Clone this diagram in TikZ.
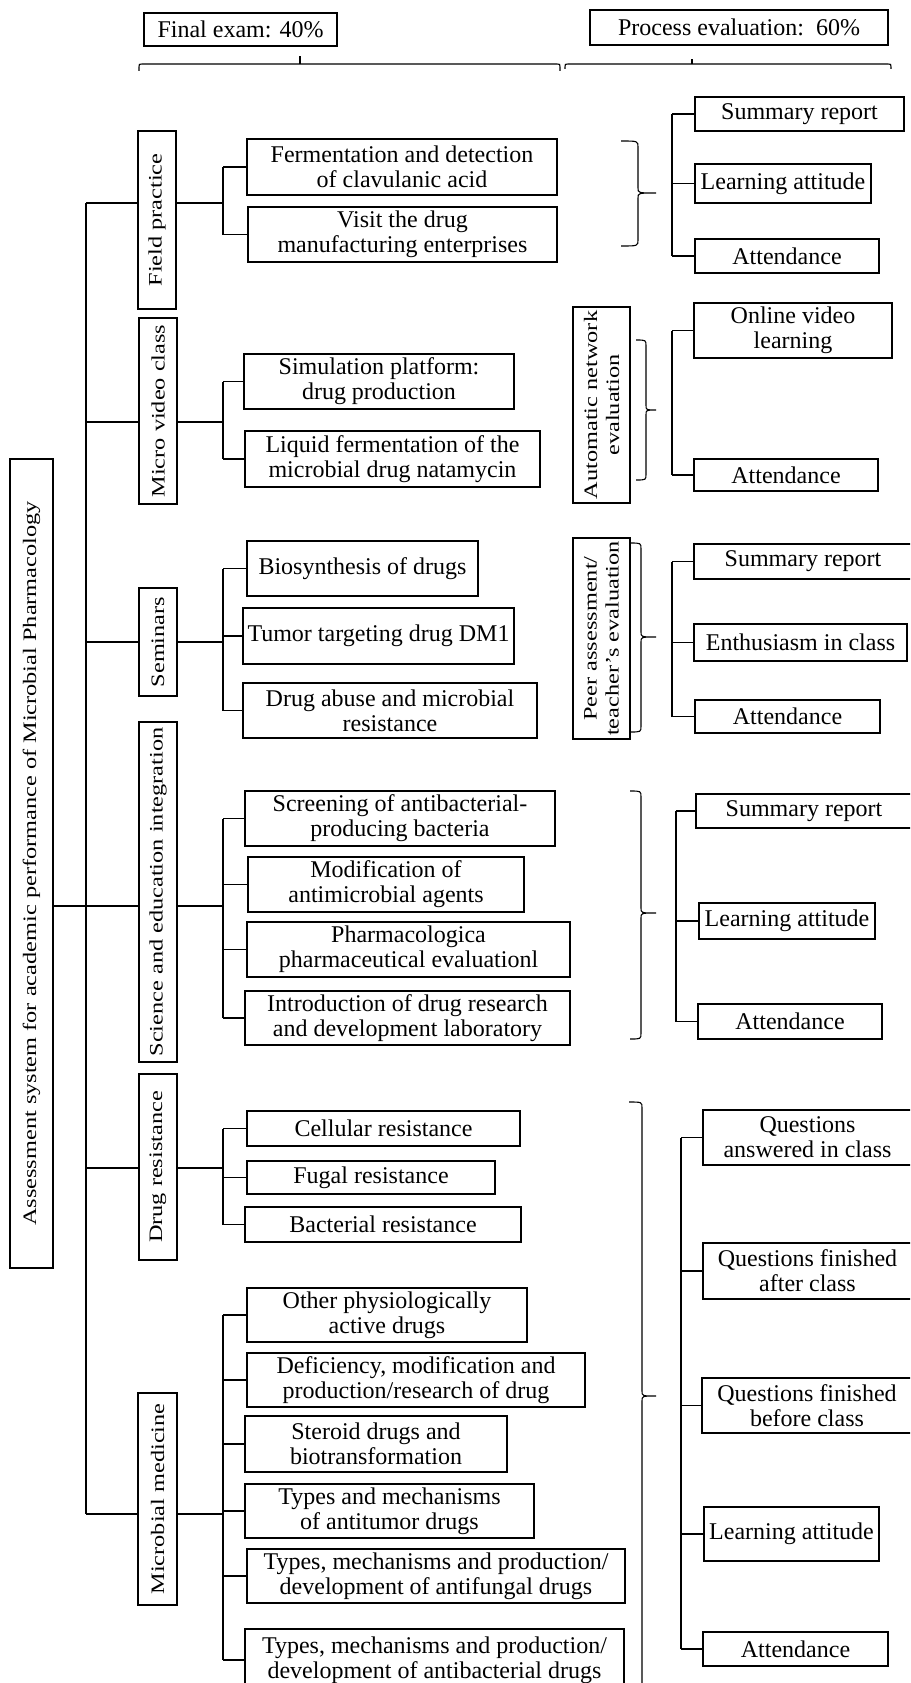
\documentclass[tikz,border=0pt]{standalone}
\usepackage{fontspec}
\setmainfont{Liberation Serif}
\newfontfamily\rotf[FakeStretch=1.28]{Liberation Serif}
\tikzset{
  bx/.style={draw, line width=1.1pt, inner sep=0pt, align=center, font=\fontsize{24}{25}\selectfont},
  rt/.style={rotate=90, inner sep=0pt, align=center, font=\rotf\fontsize{19}{22}\selectfont},
  ln/.style={line width=1.1pt},
}
\newcommand\Bx[6]{\node[bx,minimum width={(#4-#2)*1pt},minimum height={(#5-#3)*1pt}] (#1) at ({(#2+#4)/2},{(#3+#5)/2}) {#6};}
\newcommand\Cat[6]{\node[bx,minimum width={(#4-#2)*1pt},minimum height={(#5-#3)*1pt}] (#1) at ({(#2+#4)/2},{(#3+#5)/2}) {};\node[rt] (#1T) at (#1.center) {#6};}
\newcommand\VBr[6]{\draw[ln] (#1,#4) .. controls (#2,#4) .. (#2,{#4+6}) -- (#2,{#5-5}) .. controls (#2,#5) .. (#3,#5) .. controls (#2,#5) .. (#2,{#5+5}) -- (#2,{#6-6}) .. controls (#2,#6) .. (#1,#6);}
\begin{document}
\begin{tikzpicture}[x=1pt,y=-1pt]
\useasboundingbox (0,0) rectangle (910,1683);
\fill[white] (0,0) rectangle (910,1683);
\clip (0,0) rectangle (910,1683);

% top
\Bx{fe}{144}{13}{337}{46}{Final exam: 40\%}
\Bx{pe}{590}{10}{888}{45}{Process evaluation:\ \ 60\%}
\draw[ln] (139,71) -- (139,67) .. controls (139,64) .. (142,64) -- (557,64) .. controls (560,64) .. (560,67) -- (560,71);
\draw[ln] (300,64) -- (300,56);
\draw[ln] (565,69) -- (565,67) .. controls (565,64) .. (568,64) -- (888,64) .. controls (891,64) .. (891,67) -- (891,69);
\draw[ln] (692,64) -- (692,59);

% root
\Cat{root}{10}{459}{53}{1268}{Assessment system for academic performance of Microbial Pharmacology}

% categories
\Cat{fp}{138}{131}{176}{309}{Field practice}
\Cat{mvc}{139}{318}{177}{504}{Micro video class}
\Cat{sem}{139}{588}{177}{696}{Seminars}
\Cat{sei}{139}{722}{177}{1062}{Science and education integration}
\Cat{dr}{139}{1074}{177}{1260}{Drug resistance}
\Cat{mm}{138}{1393}{177}{1605}{Microbial medicine}

% children
\Bx{c11}{247}{139}{557}{195}{Fermentation and detection\\of clavulanic acid}
\Bx{c12}{248}{207}{557}{262}{Visit the drug\\manufacturing enterprises}
\Bx{c21}{244}{354}{514}{409}{Simulation platform:\\drug production}
\Bx{c22}{245}{431}{540}{487}{Liquid fermentation of the\\microbial drug natamycin}
\Bx{c31}{247}{541}{478}{596}{Biosynthesis of drugs}
\Bx{c32}{243}{608}{514}{664}{Tumor targeting drug DM1}
\Bx{c33}{243}{683}{537}{738}{Drug abuse and microbial\\resistance}
\Bx{c41}{245}{791}{555}{846}{Screening of antibacterial-\\producing bacteria}
\Bx{c42}{248}{857}{524}{912}{Modification of\\antimicrobial agents}
\Bx{c43}{247}{922}{570}{977}{Pharmacologica\\pharmaceutical evaluationl}
\Bx{c44}{245}{991}{570}{1045}{Introduction of drug research\\and development laboratory}
\Bx{c51}{247}{1111}{520}{1146}{Cellular resistance}
\Bx{c52}{247}{1161}{495}{1194}{Fugal resistance}
\Bx{c53}{245}{1207}{521}{1242}{Bacterial resistance}
\Bx{c61}{247}{1288}{527}{1342}{Other physiologically\\active drugs}
\Bx{c62}{247}{1353}{585}{1407}{Deficiency, modification and\\production/research of drug}
\Bx{c63}{245}{1416}{507}{1472}{Steroid drugs and\\biotransformation}
\Bx{c64}{245}{1484}{534}{1538}{Types and mechanisms\\of antitumor drugs}
\Bx{c65}{247}{1549}{625}{1603}{Types, mechanisms and production/\\development of antifungal drugs}
\Bx{c66}{245}{1629}{624}{1691}{Types, mechanisms and production/\\development of antibacterial drugs}

% left trunk
\coordinate (T1) at (86,203);
\coordinate (T2) at (86,422);
\coordinate (T3) at (86,642);
\coordinate (T4) at (86,906);
\coordinate (T5) at (86,1168);
\coordinate (T6) at (86,1514);
\coordinate (B1) at (223,203);
\coordinate (B2) at (223,422);
\coordinate (B3) at (223,642);
\coordinate (B4) at (223,906);
\coordinate (B5) at (223,1168);
\coordinate (B6) at (223,1514);
\draw[ln] (T1) -- (T6);
\draw[ln] (root.east |- T4) -- (T4);
\foreach \k/\c in {1/fp,2/mvc,3/sem,4/sei,5/dr,6/mm}{
  \draw[ln] (T\k) -- (\c.west |- T\k);
  \draw[ln] (\c.east |- T\k) -- (B\k);
}
\draw[ln] (B1 |- c11.west) -- (B1 |- c12.west);
\draw[ln] (B2 |- c21.west) -- (B2 |- c22.west);
\draw[ln] (B3 |- c31.west) -- (B3 |- c33.west);
\draw[ln] (B4 |- c41.west) -- (B4 |- c44.west);
\draw[ln] (B5 |- c51.west) -- (B5 |- c53.west);
\draw[ln] (B6 |- c61.west) -- (B6 |- c66.west);
\foreach \k/\c in {1/c11,1/c12,2/c21,2/c22,3/c31,3/c32,3/c33,4/c41,4/c42,4/c43,4/c44,5/c51,5/c52,5/c53,6/c61,6/c62,6/c63,6/c64,6/c65,6/c66}{
  \draw[ln] (B\k |- \c.west) -- (\c.west);
}

% right side: evaluation boxes
\Cat{ane}{573}{307}{630}{503}{Automatic network\\evaluation}
\Cat{peer}{573}{538}{630}{739}{Peer assessment/\\teacher’s evaluation}

% braces
\VBr{621}{638}{656}{141}{193}{246}
\VBr{636}{646}{656}{340}{410}{480}
\VBr{630}{641}{656}{543}{637}{732}
\VBr{630}{641}{656}{791}{913}{1039}
\VBr{629}{642}{656}{1102}{1396}{1690}

% right boxes
\Bx{sr1}{695}{97}{904}{131}{Summary report}
\Bx{la1}{695}{164}{871}{203}{Learning attitude}
\Bx{at1}{695}{239}{879}{273}{Attendance}
\Bx{ovl}{694}{303}{892}{358}{Online video\\learning}
\Bx{at2}{694}{459}{878}{491}{Attendance}
\Bx{sr3}{694}{544}{912}{579}{Summary report}
\Bx{en3}{694}{624}{907}{661}{Enthusiasm in class}
\Bx{at3}{695}{700}{880}{733}{Attendance}
\Bx{sr4}{696}{794}{912}{828}{Summary report}
\Bx{la4}{699}{903}{875}{939}{Learning attitude}
\Bx{at4}{698}{1004}{882}{1039}{Attendance}
\Bx{qa}{703}{1110}{912}{1165}{Questions\\answered in class}
\Bx{qf}{703}{1243}{912}{1299}{Questions finished\\after class}
\Bx{qb}{702}{1378}{912}{1433}{Questions finished\\before class}
\Bx{la5}{704}{1507}{879}{1561}{Learning attitude}
\Bx{at5}{703}{1632}{888}{1666}{Attendance}

% right trunks
\coordinate (R1) at (672,0);
\coordinate (R2) at (672,0);
\coordinate (R3) at (672,0);
\coordinate (R4) at (676,0);
\coordinate (R5) at (681,0);
\draw[ln] (R1 |- sr1.west) -- (R1 |- at1.west);
\draw[ln] (R2 |- ovl.west) -- (R2 |- at2.west);
\draw[ln] (R3 |- sr3.west) -- (R3 |- at3.west);
\draw[ln] (R4 |- sr4.west) -- (R4 |- at4.west);
\draw[ln] (R5 |- qa.west) -- (R5 |- at5.west);
\foreach \k/\c in {1/sr1,1/la1,1/at1,2/ovl,2/at2,3/sr3,3/en3,3/at3,4/sr4,4/la4,4/at4,5/qa,5/qf,5/qb,5/la5,5/at5}{
  \draw[ln] (R\k |- \c.west) -- (\c.west);
}
\end{tikzpicture}
\end{document}
